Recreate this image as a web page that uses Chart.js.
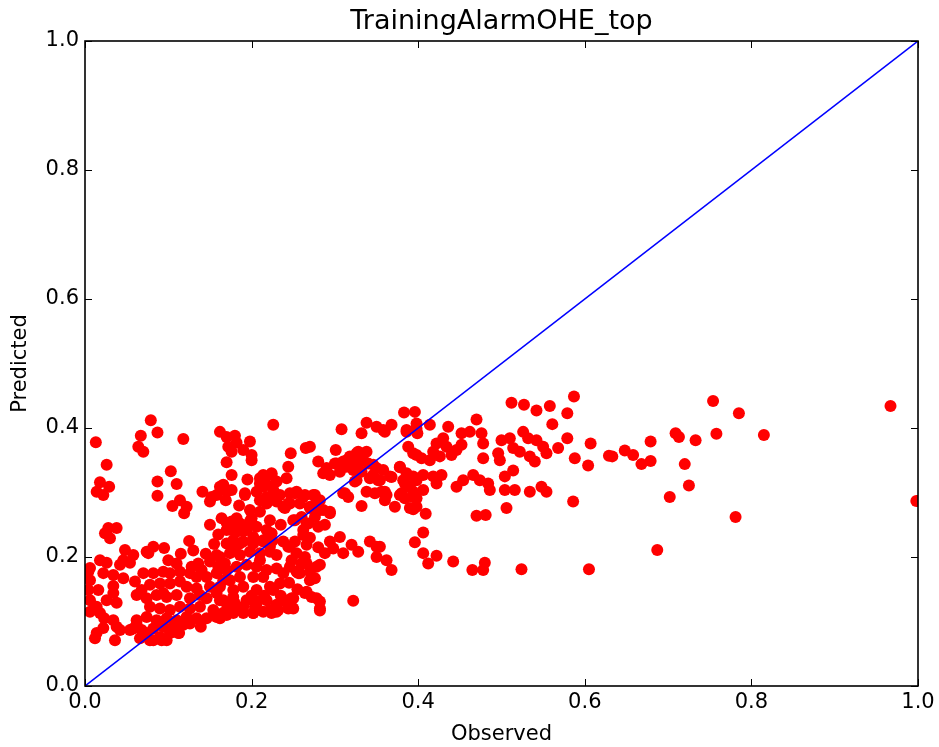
<!DOCTYPE html>
<html>
<head>
<meta charset="utf-8">
<title>TrainingAlarmOHE_top</title>
<script src="https://cdn.jsdelivr.net/npm/chart.js@4.4.1/dist/chart.umd.min.js"></script>
<style>
  html, body { margin: 0; padding: 0; background: #fff; }
  #wrap { width: 939px; height: 747px; }
</style>
</head>
<body>
<div id="wrap"><canvas id="scatter-observed-predicted"></canvas></div>
<script>
// observed vs predicted, split by region of the plot
const lowLeftObs = [
  0.079,0.013,0.067,0.087,0.064,0.070,0.118,0.162,0.170,0.180,
  0.172,0.176,0.026,0.170,0.176,0.103,0.087,0.110,0.087,0.018,
  0.014,0.022,0.029,0.105,0.114,0.122,0.119,0.141,0.150,0.158,
  0.162,0.169,0.176,0.028,0.024,0.038,0.030,0.164,0.170,0.176,
  0.182,0.048,0.058,0.074,0.082,0.095,0.018,0.026,0.046,0.054,
  0.006,0.006,0.006,0.014,0.026,0.034,0.038,0.018,0.034,0.038,
  0.042,0.036,0.014,0.012,0.022,0.062,0.068,0.074,0.082,0.092,
  0.139,0.113,0.004,0.004,0.006,0.022,0.034,0.046,0.034,0.016,
  0.023,0.042
];
const lowLeftPred = [
  0.412,0.378,0.388,0.393,0.371,0.363,0.383,0.394,0.386,0.388,
  0.371,0.363,0.343,0.347,0.327,0.333,0.317,0.313,0.295,0.316,
  0.301,0.296,0.309,0.279,0.288,0.278,0.268,0.301,0.286,0.296,
  0.309,0.288,0.304,0.245,0.237,0.245,0.229,0.260,0.253,0.242,
  0.260,0.211,0.203,0.208,0.216,0.214,0.195,0.191,0.195,0.191,
  0.183,0.164,0.133,0.123,0.133,0.144,0.129,0.113,0.102,0.092,
  0.087,0.071,0.082,0.074,0.090,0.102,0.087,0.082,0.071,0.071,
  0.092,0.082,0.177,0.149,0.115,0.175,0.172,0.167,0.155,0.149,
  0.105,0.188
];

const denseObs = [
  0.076,0.158,0.150,0.136,0.128,0.140,0.160,0.168,0.070,0.082,
  0.094,0.102,0.114,0.126,0.134,0.146,0.158,0.166,0.060,0.068,
  0.078,0.090,0.102,0.114,0.122,0.134,0.150,0.158,0.062,0.074,
  0.086,0.098,0.094,0.110,0.126,0.138,0.146,0.162,0.170,0.078,
  0.090,0.102,0.114,0.126,0.138,0.154,0.166,0.074,0.086,0.098,
  0.110,0.122,0.134,0.146,0.158,0.058,0.082,0.094,0.106,0.118,
  0.126,0.078,0.090,0.098,0.112,0.102,0.066,0.054,0.062
];
const densePred = [
  0.206,0.203,0.193,0.190,0.185,0.180,0.185,0.190,0.175,0.175,
  0.177,0.175,0.177,0.175,0.169,0.169,0.175,0.164,0.162,0.149,
  0.157,0.159,0.159,0.162,0.154,0.151,0.154,0.144,0.141,0.136,
  0.141,0.138,0.144,0.141,0.136,0.141,0.136,0.133,0.128,0.123,
  0.120,0.118,0.123,0.120,0.123,0.118,0.113,0.107,0.102,0.105,
  0.102,0.107,0.105,0.105,0.107,0.089,0.089,0.092,0.092,0.095,
  0.097,0.071,0.076,0.071,0.082,0.082,0.074,0.087,0.095
];

const midLowObs = [
  0.170,0.186,0.202,0.214,0.252,0.162,0.174,0.186,0.198,0.210,
  0.222,0.230,0.248,0.266,0.246,0.278,0.258,0.254,0.170,0.182,
  0.194,0.206,0.218,0.230,0.238,0.214,0.202,0.186,0.174,0.162,
  0.178,0.190,0.206,0.222,0.234,0.226,0.266,0.278,0.282,0.250,
  0.240,0.244,0.248,0.166,0.178,0.194,0.206,0.218,0.230,0.174,
  0.190,0.204,0.166,0.178,0.190,0.202,0.214,0.224,0.232,0.162,
  0.170
];
const midLowPred = [
  0.221,0.221,0.221,0.224,0.224,0.200,0.206,0.203,0.208,0.206,
  0.208,0.203,0.195,0.190,0.185,0.185,0.175,0.177,0.180,0.185,
  0.188,0.185,0.180,0.182,0.175,0.169,0.169,0.169,0.164,0.154,
  0.149,0.154,0.149,0.154,0.159,0.149,0.146,0.136,0.120,0.136,
  0.133,0.120,0.123,0.133,0.138,0.133,0.131,0.133,0.126,0.123,
  0.123,0.123,0.113,0.115,0.115,0.113,0.115,0.113,0.118,0.105,
  0.110
];

const midObs = [
  0.200,0.224,0.214,0.210,0.218,0.230,0.166,0.170,0.152,0.192,
  0.206,0.210,0.218,0.224,0.234,0.246,0.254,0.262,0.258,0.246,
  0.238,0.230,0.198,0.176,0.186,0.198,0.206,0.222,0.218,0.224,
  0.250,0.266,0.262,0.170,0.182,0.194,0.202,0.178,0.190,0.214,
  0.238,0.246,0.266,0.222
];
const midPred = [
  0.350,0.327,0.327,0.314,0.312,0.317,0.312,0.301,0.293,0.299,
  0.301,0.288,0.283,0.293,0.296,0.299,0.301,0.293,0.283,0.283,
  0.278,0.286,0.273,0.255,0.252,0.255,0.247,0.257,0.242,0.237,
  0.257,0.252,0.242,0.242,0.239,0.242,0.231,0.226,0.224,0.226,
  0.224,0.216,0.219,0.216
];

// extra points packed into the core of the cluster
const coreObs = [
  0.200,0.215,0.235,0.245,0.255,0.190,0.200,0.210,0.155,0.145,
  0.130,0.115,0.125,0.180,0.210,0.225,0.235,0.185,0.195,0.270,
  0.280,0.150,0.160,0.110,0.100,0.180
];
const corePred = [
  0.140,0.140,0.140,0.160,0.150,0.240,0.260,0.270,0.220,0.205,
  0.210,0.205,0.225,0.210,0.195,0.225,0.250,0.280,0.320,0.230,
  0.215,0.250,0.235,0.190,0.195,0.128
];

const centreObs = [
  0.226,0.308,0.338,0.350,0.360,0.332,0.182,0.198,0.200,0.190,
  0.265,0.247,0.244,0.242,0.301,0.280,0.290,0.302,0.314,0.326,
  0.338,0.334,0.346,0.358,0.326,0.322,0.310,0.210,0.224,0.214,
  0.226,0.218,0.192,0.244,0.252,0.264,0.276,0.282,0.270,0.240,
  0.312,0.316,0.332,0.286,0.294,0.252,0.260,0.268,0.276,0.280,
  0.288,0.262,0.306,0.294,0.298,0.288,0.320,0.328,0.310,0.342,
  0.350,0.350,0.244,0.254,0.264,0.260,0.256,0.282,0.270,0.270,
  0.276,0.264,0.272,0.282,0.282,0.322,0.248,0.250,0.238,0.230,
  0.222,0.206,0.202,0.190,0.178
];
const centrePred = [
  0.405,0.398,0.408,0.402,0.394,0.392,0.377,0.379,0.358,0.366,
  0.369,0.361,0.340,0.322,0.366,0.348,0.338,0.345,0.350,0.361,
  0.363,0.350,0.343,0.335,0.319,0.335,0.340,0.322,0.330,0.309,
  0.304,0.293,0.296,0.283,0.299,0.296,0.296,0.288,0.278,0.276,
  0.299,0.293,0.279,0.273,0.268,0.257,0.262,0.252,0.262,0.247,
  0.250,0.234,0.231,0.224,0.213,0.206,0.219,0.208,0.206,0.224,
  0.216,0.200,0.216,0.206,0.200,0.190,0.175,0.188,0.177,0.164,
  0.167,0.144,0.138,0.131,0.117,0.132,0.136,0.120,0.133,0.115,
  0.118,0.128,0.113,0.113,0.113
];

const diagObs = [
  0.386,0.398,0.394,0.300,0.310,0.318,0.328,0.340,0.326,0.314,
  0.306,0.286,0.294,0.350,0.346,0.342,0.332,0.324,0.310,0.338,
  0.348,0.356,0.362,0.366,0.352,0.378,0.386,0.384,0.390,0.398,
  0.378,0.384,0.394,0.398,0.390,0.270,0.274,0.278,0.282,0.294,
  0.270
];
const diagPred = [
  0.394,0.399,0.361,0.345,0.348,0.356,0.363,0.345,0.345,0.340,
  0.332,0.330,0.327,0.338,0.327,0.322,0.332,0.317,0.299,0.301,
  0.299,0.301,0.296,0.325,0.319,0.340,0.330,0.314,0.309,0.319,
  0.296,0.291,0.293,0.278,0.276,0.371,0.296,0.288,0.273,0.270,
  0.276
];

const upperRightObs = [
  0.512,0.527,0.542,0.558,0.579,0.587,0.561,0.383,0.396,0.368,
  0.358,0.386,0.398,0.414,0.399,0.470,0.436,0.452,0.462,0.476,
  0.478,0.430,0.422,0.418,0.434,0.446,0.452,0.440,0.426,0.414,
  0.388,0.398,0.404,0.478,0.496,0.498,0.500,0.510,0.514,0.526,
  0.532,0.542,0.550,0.554,0.540,0.522,0.534,0.568,0.579,0.588
];
const upperRightPred = [
  0.439,0.436,0.427,0.434,0.423,0.449,0.406,0.424,0.425,0.405,
  0.397,0.397,0.407,0.405,0.392,0.413,0.402,0.392,0.394,0.392,
  0.376,0.384,0.376,0.363,0.371,0.366,0.374,0.358,0.356,0.350,
  0.371,0.358,0.353,0.353,0.361,0.350,0.381,0.384,0.369,0.394,
  0.384,0.381,0.371,0.361,0.348,0.363,0.356,0.369,0.384,0.353
];

const lowerRightObs = [
  0.378,0.368,0.354,0.382,0.394,0.406,0.418,0.428,0.386,0.394,
  0.406,0.422,0.380,0.398,0.360,0.360,0.446,0.454,0.466,0.474,
  0.484,0.486,0.514,0.504,0.504,0.516,0.534,0.548,0.554,0.372,
  0.394,0.409,0.470,0.481,0.506,0.586,0.406,0.396,0.406,0.422,
  0.412,0.442,0.465,0.480,0.478,0.524,0.354,0.362,0.368
];
const lowerRightPred = [
  0.339,0.324,0.319,0.319,0.325,0.327,0.325,0.327,0.309,0.301,
  0.304,0.314,0.299,0.291,0.301,0.288,0.309,0.319,0.327,0.319,
  0.314,0.304,0.334,0.325,0.304,0.304,0.301,0.309,0.301,0.278,
  0.274,0.267,0.264,0.265,0.276,0.286,0.238,0.223,0.206,0.202,
  0.190,0.193,0.180,0.191,0.180,0.181,0.216,0.195,0.180
];

const farRightObs = [
  0.754,0.785,0.967,0.607,0.604,0.629,0.633,0.648,0.658,0.668,
  0.679,0.679,0.709,0.713,0.733,0.758,0.815,0.720,0.725,0.702,
  0.781,0.998,0.687,0.605
];
const farRightPred = [
  0.442,0.423,0.434,0.376,0.342,0.357,0.356,0.365,0.358,0.344,
  0.349,0.379,0.392,0.386,0.381,0.391,0.389,0.344,0.311,0.293,
  0.262,0.287,0.211,0.181
];

const yTicks = [0.0, 0.2, 0.4, 0.6, 0.8, 1.0];
const xTicks = [0.0, 0.2, 0.4, 0.6, 0.8, 1.0];

const observed = [].concat(lowLeftObs, denseObs, midLowObs, midObs, coreObs, centreObs,
                           diagObs, upperRightObs, lowerRightObs, farRightObs);
const predicted = [].concat(lowLeftPred, densePred, midLowPred, midPred, corePred, centrePred,
                            diagPred, upperRightPred, lowerRightPred, farRightPred);
const points = observed.map((x, i) => ({ x: x, y: predicted[i] }));

const FONT = "'DejaVu Sans', sans-serif";

// black frame with inward ticks on all four sides
const frameTicks = {
  id: 'frameTicks',
  afterDraw(chart) {
    const ctx = chart.ctx;
    const a = chart.chartArea;
    const xs = chart.scales.x, ys = chart.scales.y;
    const len = 7;
    ctx.save();
    ctx.strokeStyle = '#000';
    ctx.lineWidth = 1;
    ctx.beginPath();
    xTicks.forEach(v => {
      const px = Math.round(xs.getPixelForValue(v)) + 0.5;
      ctx.moveTo(px, a.bottom); ctx.lineTo(px, a.bottom - len);
      ctx.moveTo(px, a.top); ctx.lineTo(px, a.top + len);
    });
    yTicks.forEach(v => {
      const py = Math.round(ys.getPixelForValue(v)) + 0.5;
      ctx.moveTo(a.left, py); ctx.lineTo(a.left + len, py);
      ctx.moveTo(a.right, py); ctx.lineTo(a.right - len, py);
    });
    ctx.stroke();
    ctx.lineWidth = 1.6;
    ctx.strokeRect(a.left, a.top, a.right - a.left, a.bottom - a.top);
    ctx.restore();
  }
};

new Chart(document.getElementById('scatter-observed-predicted'), {
  type: 'scatter',
  data: {
    datasets: [{
      type: 'line',
      label: 'y = x',
      data: [{ x: 0, y: 0 }, { x: 1, y: 1 }],
      borderColor: '#0000ff',
      borderWidth: 1.5,
      pointRadius: 0,
      fill: false,
      clip: 0,
      order: 0
    }, {
      label: 'Predicted',
      data: points,
      backgroundColor: '#ff0000',
      borderWidth: 0,
      pointRadius: 6,
      pointHoverRadius: 6,
      clip: 0,
      order: 1
    }]
  },
  options: {
    responsive: true,
    maintainAspectRatio: false,
    animation: false,
    events: [],
    layout: { padding: { left: 0, right: 21, top: 0, bottom: 0 } },
    plugins: {
      legend: { display: false },
      tooltip: { enabled: false },
      title: {
        display: true,
        fullSize: false,
        text: 'TrainingAlarmOHE_top',
        color: '#000',
        font: { family: FONT, size: 27, weight: 'normal' },
        padding: { top: 6, bottom: 2.6 }
      }
    },
    scales: {
      x: {
        type: 'linear',
        min: 0, max: 1,
        afterFit(scale) { scale.height = 61; },
        afterBuildTicks(scale) { scale.ticks = xTicks.map(v => ({ value: v })); },
        grid: { display: false, drawTicks: false },
        border: { display: false },
        ticks: {
          color: '#000',
          padding: 4,
          maxRotation: 0,
          font: { family: FONT, size: 21 },
          callback: v => v.toFixed(1)
        },
        title: {
          display: true,
          text: 'Observed',
          color: '#000',
          font: { family: FONT, size: 21 },
          padding: { top: 0, bottom: 0 }
        }
      },
      y: {
        type: 'linear',
        min: 0, max: 1,
        afterFit(scale) { scale.width = 85; },
        afterBuildTicks(scale) { scale.ticks = yTicks.map(v => ({ value: v })); },
        grid: { display: false, drawTicks: false },
        border: { display: false },
        ticks: {
          color: '#000',
          padding: 6,
          font: { family: FONT, size: 21 },
          callback: v => v.toFixed(1)
        },
        title: {
          display: true,
          text: 'Predicted',
          color: '#000',
          font: { family: FONT, size: 21 },
          padding: { top: 8, bottom: 0 }
        }
      }
    }
  },
  plugins: [frameTicks]
});
</script>
</body>
</html>
